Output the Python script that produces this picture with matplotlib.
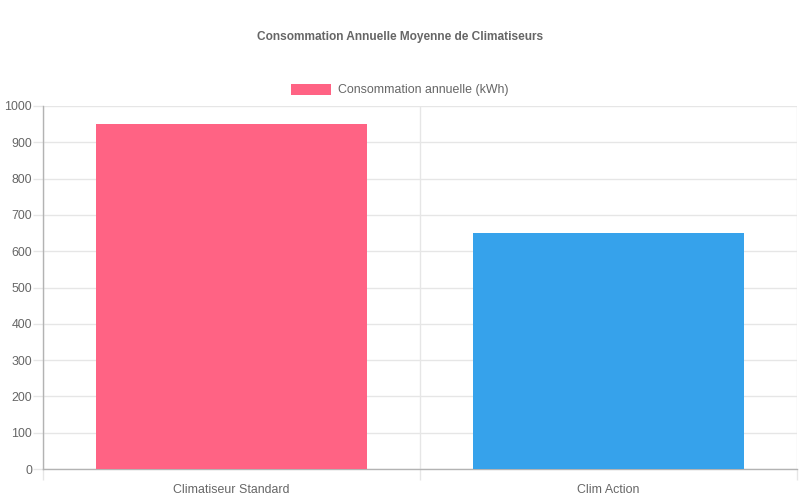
import matplotlib.pyplot as plt
from matplotlib.patches import Patch

# data
categories = ["Climatiseur Standard", "Clim Action"]
consommation = [950, 650]
bar_colors = ["#FF6384", "#36A2EB"]
series_label = "Consommation annuelle (kWh)"
title = "Consommation Annuelle Moyenne de Climatiseurs"

plt.rcParams['font.family'] = ['Liberation Sans', 'DejaVu Sans']
txt_color = "#666666"
fs = 8.9  # ~12px at 100 dpi

fig = plt.figure(figsize=(8, 5), dpi=100)
ax = fig.add_axes([43 / 800, 31 / 500, 754 / 800, 363 / 500])

x = list(range(len(categories)))
ax.bar(x, consommation, width=0.72, color=bar_colors, zorder=3)

ax.set_xlim(-0.5, len(categories) - 0.5)
ax.set_ylim(0, 1000)
ax.set_yticks(range(0, 1001, 100))
ax.set_xticks(x)
ax.set_xticklabels(categories)
ax.set_xticks([i - 0.5 for i in range(len(categories) + 1)], minor=True)

# grid lines
ax.grid(axis='y', which='major', color='#e6e6e6', linewidth=1, zorder=0)
ax.grid(axis='x', which='minor', color='#e6e6e6', linewidth=1, zorder=0)

ax.tick_params(axis='y', which='major', length=7, width=1, color='#e6e6e6',
               labelsize=fs, labelcolor=txt_color, pad=1)
ax.tick_params(axis='x', which='major', length=0, labelsize=fs,
               labelcolor=txt_color, pad=11)
ax.tick_params(axis='x', which='minor', length=8, width=1, color='#e6e6e6')

for side in ['top', 'right']:
    ax.spines[side].set_visible(False)
for side in ['left', 'bottom']:
    ax.spines[side].set_color('#b3b3b3')
    ax.spines[side].set_linewidth(1)

fig.text(0.5, 1 - 37 / 500, title, ha='center', va='center',
         fontsize=8.6, fontweight='bold', color=txt_color)

handle = Patch(facecolor=bar_colors[0], edgecolor='none')
fig.legend([handle], [series_label], loc='center', bbox_to_anchor=(0.5, 1 - 90 / 500),
           frameon=False, fontsize=fs, labelcolor=txt_color,
           handlelength=40 / 12.4, handleheight=1.0, handletextpad=0.55)

fig.savefig("out.png", dpi=100, facecolor='white')
